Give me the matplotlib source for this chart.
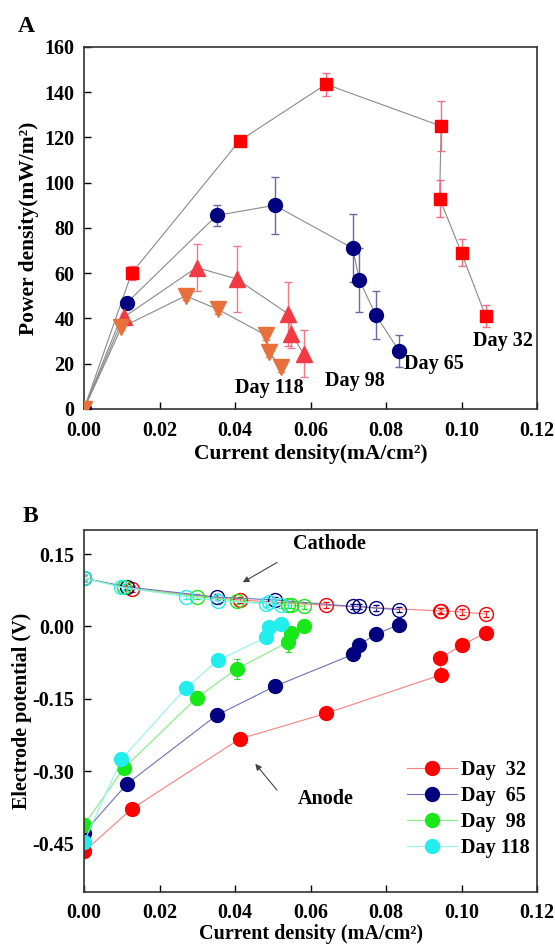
import matplotlib
matplotlib.use("Agg")
import matplotlib.pyplot as plt

plt.rcParams['font.family'] = ['Liberation Serif', 'DejaVu Serif']
plt.rcParams['font.weight'] = 'bold'
plt.rcParams['axes.unicode_minus'] = False

# power density curves (A)
x32 = [0, 0.0126, 0.0412, 0.0641, 0.0946, 0.0942, 0.1000, 0.1064]
p32 = [0, 60, 118.5, 143.5, 125, 93, 69, 41]
e32 = [0, 3, 2, 5, 11, 8, 6, 5]

x65 = [0, 0.0114, 0.0351, 0.0505, 0.0712, 0.0729, 0.0773, 0.0835]
p65 = [0, 47, 85.5, 90, 71, 57, 41.5, 25.5]
e65 = [0, 1.5, 4.5, 12.5, 15, 14, 10.5, 7]

x98 = [0, 0.0105, 0.0298, 0.0404, 0.0541, 0.0549, 0.0582]
p98 = [0, 40.5, 62.5, 57.5, 42, 33, 24.5]
e98 = [0, 1.5, 10.5, 14.5, 14, 6, 10.5]

x118 = [0, 0.0099, 0.0269, 0.0355, 0.0483, 0.0491, 0.0521]
p118 = [0, 36, 50, 44, 32.5, 25, 18.5]
e118 = [0, 1, 2, 2, 2, 2, 2]

# electrode potentials (B)
an32 = [-0.466, -0.378, -0.233, -0.180, -0.100, -0.066, -0.039, -0.013]
ca32 = [0.100, 0.078, 0.055, 0.044, 0.032, 0.033, 0.030, 0.026]
an65 = [-0.427, -0.326, -0.184, -0.124, -0.058, -0.038, -0.016, 0.004]
ca65 = [0.100, 0.082, 0.061, 0.055, 0.0415, 0.0415, 0.038, 0.035]
an98 = [-0.411, -0.294, -0.148, -0.088, -0.032, -0.014, 0.002]
ca98 = [0.100, 0.081, 0.062, 0.053, 0.044, 0.044, 0.042]
an118 = [-0.446, -0.275, -0.128, -0.070, -0.022, -0.001, 0.005]
ca118 = [0.100, 0.081, 0.062, 0.053, 0.047, 0.050, 0.044]

an_err32 = [0, 0, 0, 0, 0, 0, 0, 0]
an_err65 = [0, 0, 0, 0.01, 0, 0, 0, 0]
an_err98 = [0.015, 0, 0.015, 0.02, 0.02, 0, 0.012]
an_err118 = [0, 0, 0, 0, 0, 0, 0]
ca_err = 0.006

days = ['Day  32', 'Day  65', 'Day  98', 'Day 118']

fig = plt.figure(figsize=(5.55, 9.46), dpi=100)
axA = fig.add_axes([0.1514, 0.5677, 0.8162, 0.3827])
axB = fig.add_axes([0.1514, 0.0571, 0.8162, 0.3827])


def style_axes(ax):
    for s in ax.spines.values():
        s.set_linewidth(1.2)
        s.set_color('#333333')
    ax.tick_params(direction='in', length=5, width=1, labelsize=14.5, pad=7,
                   top=False, right=False)
    for lab in ax.get_xticklabels() + ax.get_yticklabels():
        lab.set_fontweight('bold')


# --- A: power density ---
grey = '#8a8a8a'
series_a = [
    (x32, p32, e32, 's', '#ff0000', '#f07080', 9),
    (x65, p65, e65, 'o', '#000080', '#6a6aa8', 10),
    (x98, p98, e98, '^', '#f23a44', '#f07888', 11),
    (x118, p118, e118, 'v', '#e8703a', '#e89070', 11),
]
for x, y, e, m, c, ec, ms in series_a:
    axA.plot(x, y, '-', color=grey, lw=0.8, zorder=1)
    axA.errorbar(x, y, yerr=e, fmt='none', ecolor=ec, elinewidth=1,
                 capsize=3, capthick=1, zorder=2)
    axA.plot(x, y, m, color=c, ms=ms, mec=c, zorder=3)

axA.set_xlim(0, 0.12)
axA.set_ylim(0, 160)
axA.set_xticks([0, 0.02, 0.04, 0.06, 0.08, 0.10, 0.12])
axA.set_xticklabels(['0.00', '0.02', '0.04', '0.06', '0.08', '0.10', '0.12'])
axA.set_yticks(range(0, 161, 20))
style_axes(axA)
axA.tick_params(axis='x', pad=9)
axA.set_xlabel('Current density(mA/cm²)', fontsize=15.5, fontweight='bold', labelpad=2)
axA.set_ylabel('Power density(mW/m²)', fontsize=15.5, fontweight='bold', labelpad=4)

tk = dict(fontsize=14.5, fontweight='bold', ha='center', va='center')
axA.text(0.1109, 30.2, 'Day 32', **tk)
axA.text(0.0926, 19.9, 'Day 65', **tk)
axA.text(0.0718, 12.4, 'Day 98', **tk)
axA.text(0.0491, 9.3, 'Day 118', **tk)
fig.text(26.7 / 555, 1 - 26 / 946, 'A', fontsize=17, fontweight='bold',
         ha='center', va='center')

# --- B: electrode potential ---
series_b = [
    (x32, an32, an_err32, ca32, '#ff0000', '#ff8080'),
    (x65, an65, an_err65, ca65, '#000080', '#7070b8'),
    (x98, an98, an_err98, ca98, '#18e818', '#80f080'),
    (x118, an118, an_err118, ca118, '#22eeee', '#90f4f4'),
]
handles = []
for (x, an, ae, ca, c, lc), lab in zip(series_b, days):
    axB.errorbar(x, ca, yerr=ca_err, fmt='o-', color=lc, lw=0.8, ms=10,
                 mfc='none', mec=c, mew=1.0, ecolor=c, elinewidth=0.6,
                 capsize=2.5, capthick=0.6)
    axB.errorbar(x, an, yerr=ae, fmt='none', ecolor=c, elinewidth=0.8,
                 capsize=2.5, capthick=0.8)
    h, = axB.plot(x, an, 'o-', color=lc, lw=0.8, ms=10, mfc=c, mec=c, label=lab)
    handles.append(h)

axB.set_xlim(0, 0.12)
axB.set_ylim(-0.55, 0.2)
axB.set_xticks([0, 0.02, 0.04, 0.06, 0.08, 0.10, 0.12])
axB.set_xticklabels(['0.00', '0.02', '0.04', '0.06', '0.08', '0.10', '0.12'])
axB.set_yticks([0.15, 0.0, -0.15, -0.30, -0.45])
axB.set_yticklabels(['0.15', '0.00', '-0.15', '-0.30', '-0.45'])
style_axes(axB)
axB.tick_params(axis='x', pad=8)
axB.set_xlabel('Current density (mA/cm²)', fontsize=14.5, fontweight='bold', labelpad=1)
axB.set_ylabel('Electrode potential (V)', fontsize=14.5, fontweight='bold', labelpad=0)

axB.annotate('', xy=(0.0414, 0.0886), xytext=(0.0518, 0.1357),
             arrowprops=dict(arrowstyle='-|>', color='#444444', lw=0.8,
                             mutation_scale=9))
axB.text(0.065, 0.1716, 'Cathode', fontsize=14.5, fontweight='bold',
         ha='center', va='center')
axB.annotate('', xy=(0.0449, -0.280), xytext=(0.0516, -0.3436),
             arrowprops=dict(arrowstyle='-|>', color='#444444', lw=0.8,
                             mutation_scale=9))
axB.text(0.064, -0.357, 'Anode', fontsize=14.5, fontweight='bold',
         ha='center', va='center')

axB.legend(handles=handles, loc='upper left', bbox_to_anchor=(0.712, 0.365),
           frameon=False, handlelength=2.5, handletextpad=0.2,
           labelspacing=0.3, borderpad=0, borderaxespad=0,
           prop=dict(weight='bold', size=14.5))
fig.text(30 / 555, 1 - 516 / 946, 'B', fontsize=17, fontweight='bold',
         ha='center', va='center')

fig.savefig('out.png', dpi=100)
